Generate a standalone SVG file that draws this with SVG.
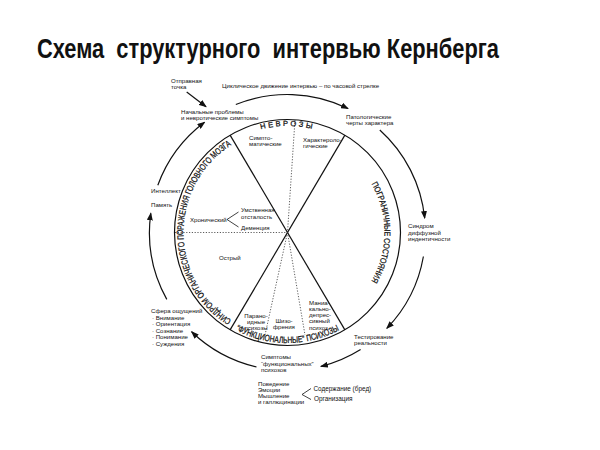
<svg xmlns="http://www.w3.org/2000/svg" width="600" height="450" viewBox="0 0 600 450">
<style>
text{font-family:"Liberation Sans",Arial,sans-serif;fill:#111}
.s{font-size:6.1px}
.m{font-size:6.4px}
.c{font-size:8.5px;fill:#111;stroke:#111;stroke-width:0.25}
.mid{text-anchor:middle}
.ln{fill:none;stroke:#111;stroke-width:1.2}
.dot{fill:none;stroke:#333;stroke-width:0.8;stroke-dasharray:1.2 1.6}
.arc{fill:none;stroke:#111;stroke-width:1.2;marker-end:url(#ah)}
</style>
<defs>
<marker id="ah" viewBox="0 0 8 6" refX="7" refY="3" markerWidth="8" markerHeight="6" markerUnits="userSpaceOnUse" orient="auto">
<path d="M0,0 L8,3 L0,6 z" fill="#111"/>
</marker>
<path id="pTop" d="M181,232.5 A106.5,106.5 0 0 1 394,232.5"/>
<path id="pLeft" d="M287.5,336.5 A104,104 0 0 1 287.5,128.5"/>
<path id="pRight" d="M287.5,135.5 A97,97 0 0 1 287.5,329.5"/>
<path id="pBot" d="M177,232.5 A110.5,110.5 0 0 0 398,232.5"/>
</defs>
<rect width="600" height="450" fill="#fff"/>

<text id="title" x="37" y="58" xml:space="preserve" style="font-family:'Liberation Sans Narrow','Liberation Sans',Arial,sans-serif;font-size:27px;font-weight:bold;fill:#111" textLength="462" lengthAdjust="spacingAndGlyphs">Схема  структурного  интервью Кернберга</text>

<g id="connectors">
<path class="arc" d="M157.8,185.3 A138,138 0 0 1 204.5,122.3"/>
<path class="arc" d="M235.8,104.5 A138,138 0 0 1 348,108.5"/>
<path class="arc" d="M379.8,130 A138,138 0 0 1 424.7,218.1"/>
<path class="arc" d="M423.4,256.5 A138,138 0 0 1 386.8,328.4"/>
<path class="arc" d="M360.6,349.5 A138,138 0 0 1 320.9,366.4"/>
<path class="arc" d="M256.5,367 A138,138 0 0 1 191.6,331.8"/>
<path class="arc" d="M166.8,299.4 A138,138 0 0 1 150.8,213.3"/>
<path class="arc" d="M186.7,92 L206,106.7"/>
</g>

<g id="circle">
<circle class="ln" cx="287.5" cy="232.5" r="113"/>
<line class="ln" x1="230.1" y1="135.1" x2="344.9" y2="329.9"/>
<line class="ln" x1="344.9" y1="135.1" x2="230.1" y2="329.9"/>
<line class="dot" x1="295" y1="120" x2="287.5" y2="232.5"/>
<line class="dot" x1="175" y1="232.5" x2="287.5" y2="232.5"/>
<line class="dot" x1="287.5" y1="232.5" x2="265" y2="335"/>
<line class="dot" x1="287.5" y1="232.5" x2="305" y2="335"/>
</g>

<g id="sector-neuroses">
<text class="c mid" style="font-size:7.5px;letter-spacing:2.4px"><textPath href="#pTop" startOffset="50%">НЕВРОЗЫ</textPath></text>
<text class="s" x="249" y="139.5">Симпто-</text>
<text class="s" x="249" y="146">матические</text>
<text class="s" x="303" y="141.5">Характероло-</text>
<text class="s" x="303" y="148">гические</text>
</g>

<g id="sector-organic">
<text class="c mid" style="font-size:9px"><textPath href="#pLeft" startOffset="50%" textLength="208" lengthAdjust="spacingAndGlyphs">СИНДРОМ ОРГАНИЧЕСКОГО ПОРАЖЕНИЯ ГОЛОВНОГО МОЗГА</textPath></text>
<text class="s" x="190" y="221.5">Хронический</text>
<path class="ln" style="stroke-width:0.8" d="M238.5,212 L227,219.5 L238.5,227"/>
<text class="s" x="241" y="211.5">Умственная</text>
<text class="s" x="241" y="219">отсталость</text>
<text class="s" x="241" y="229.5">Деменция</text>
<text class="s" x="219" y="260">Острый</text>
</g>

<g id="sector-borderline">
<text class="c mid" style="font-size:8.5px"><textPath href="#pRight" startOffset="50%" textLength="102" lengthAdjust="spacingAndGlyphs">ПОГРАНИЧНЫЕ СОСТОЯНИЯ</textPath></text>
</g>

<g id="sector-psychoses">
<text class="c mid" style="font-size:9px"><textPath href="#pBot" startOffset="50%" textLength="108" lengthAdjust="spacingAndGlyphs">“ФУНКЦИОНАЛЬНЫЕ” ПСИХОЗЫ</textPath></text>
<text class="s mid" x="256" y="317.5">Парано-</text>
<text class="s mid" x="256" y="323.5">идные</text>
<text class="s mid" x="256" y="329.5">психозы</text>
<text class="s mid" x="284" y="322.5">Шизо-</text>
<text class="s mid" x="284" y="328.5">френия</text>
<text class="s" x="309" y="304.5">Маниа-</text>
<text class="s" x="309" y="310.8">кально-</text>
<text class="s" x="309" y="317">депрес-</text>
<text class="s" x="309" y="323.3">сивный</text>
<text class="s" x="309" y="329.5">психоз</text>
</g>

<g id="start">
<text class="s" x="171" y="83">Отправная</text>
<text class="s" x="171" y="89">точка</text>
</g>
<g id="cycle-label">
<text class="s" x="222" y="87.5">Циклическое движение интервью – по часовой стрелке</text>
</g>
<g id="initial">
<text class="s" x="181" y="113.5">Начальные проблемы</text>
<text class="s" x="181" y="119.5">и невротические симптомы</text>
</g>
<g id="pathological">
<text class="s" x="346" y="118.5">Патологические</text>
<text class="s" x="346" y="125">черты характера</text>
</g>
<g id="diffusion">
<text class="s" x="408" y="228">Синдром</text>
<text class="s" x="408" y="234.5">диффузной</text>
<text class="s" x="408" y="241">индентичности</text>
</g>
<g id="reality">
<text class="s" x="354" y="338.5">Тестирование</text>
<text class="s" x="354" y="345">реальности</text>
</g>
<g id="symptoms">
<text class="s" x="261" y="359">Симптомы</text>
<text class="s" x="261" y="365.5">“функциональных”</text>
<text class="s" x="261" y="372">психозов</text>
</g>
<g id="behaviour">
<text class="s" x="258" y="385.5">Поведение</text>
<text class="s" x="258" y="391.5">Эмоции</text>
<text class="s" x="258" y="397.5">Мышление</text>
<text class="s" x="258" y="403.5">и галлюцинации</text>
<path class="ln" style="stroke-width:0.8" d="M311,388.5 L302,394.5 L311,399.5"/>
<text class="m" x="313.5" y="391">Содержание (бред)</text>
<text class="m" x="314" y="400.5">Организация</text>
</g>
<g id="sensorium">
<text class="s" x="151" y="313">Сфера ощущений</text>
<text class="s" x="152" y="319.5">· Внимание</text>
<text class="s" x="152" y="326">· Ориентация</text>
<text class="s" x="152" y="332.5">· Сознание</text>
<text class="s" x="152" y="339">· Понимание</text>
<text class="s" x="152" y="345.5">· Суждения</text>
</g>
<g id="intellect">
<text class="s" x="151" y="193">Интеллект</text>
<text class="s" x="151" y="206.5">Память</text>
</g>
</svg>
